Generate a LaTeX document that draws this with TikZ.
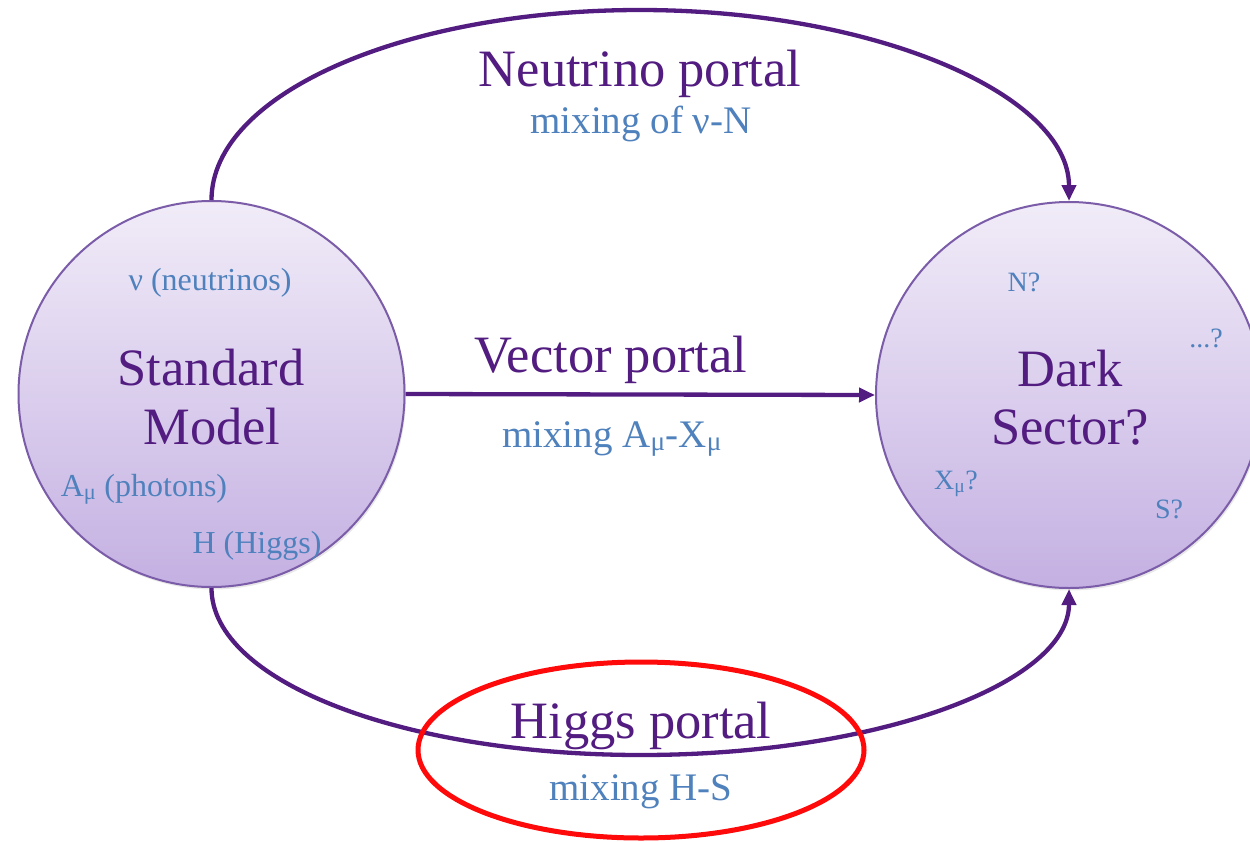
\documentclass[tikz,border=0pt]{standalone}
\usepackage{fontspec}
\setmainfont{Liberation Serif}
\usetikzlibrary{arrows.meta,shapes.geometric,shadows}
\definecolor{smpurple}{HTML}{521C80}
\definecolor{lblue}{HTML}{4F81BD}
\definecolor{rim}{HTML}{7B5CA8}
\definecolor{fillTop}{HTML}{F1ECF8}
\definecolor{fillBot}{HTML}{C4B0E2}
\definecolor{hred}{HTML}{FF0A0A}
\newcommand\smu{\textsubscript{μ}}
\begin{document}
\begin{tikzpicture}[x=1pt,y=-1pt,
  sector/.style={circle, draw=rim, line width=2pt, inner sep=0pt, minimum size=386pt,
    top color=fillTop, bottom color=fillBot,
    drop shadow={opacity=0.18,shadow xshift=1.5pt,shadow yshift=-2.5pt}},
  big/.style={text=smpurple, font=\fontsize{52.5}{59}\selectfont, inner sep=0pt, anchor=base},
  mid/.style={text=lblue, font=\fontsize{39}{44}\selectfont, inner sep=0pt, anchor=base},
  small/.style={text=lblue, font=\fontsize{32}{36}\selectfont, inner sep=0pt, anchor=base},
  tiny/.style={text=lblue, font=\fontsize{28}{32}\selectfont, inner sep=0pt, anchor=base},
  portal/.style={draw=smpurple, line width=4.3pt, -{Triangle[length=16pt,width=14pt]}},
  ring/.style={ellipse, draw=hred, line width=5pt, inner sep=0pt},
]
\clip (0,0) rectangle (1250,841);
\fill[white] (0,0) rectangle (1250,841);

% the two sectors
\node[sector] (sm) at (211.5,394) {};
\node[sector] (ds) at (1069,395) {};

% portals
\coordinate (nutop) at (640,10);
\coordinate (hbot) at (641,755);
\draw[portal] (sm.north) .. controls +(0,-106) and +(-236,0) .. (nutop)
  .. controls +(236,0) and +(0,-106) .. (ds.north);
\draw[portal] (sm.east) -- (ds.west);
\draw[portal] (sm.south) .. controls +(0,94) and +(-237,0) .. (hbot)
  .. controls +(237,0) and +(0,94) .. (ds.south);

% highlight around the Higgs portal
\node[ring, minimum width=446pt, minimum height=176pt] (hring) at (641,750) {};

% labels of the Standard Model
\node[big] (smA) at (211,385) {Standard};
\node[big] (smB) at (212,444) {Model};
\node[small] (nu) at (210,290) {ν (neutrinos)};
\node[small] (ph) at (144,496) {A\smu{} (photons)};
\node[small] (hg) at (257,553) {H (Higgs)};

% labels of the dark sector
\node[big] (dsA) at (1070,386) {Dark};
\node[big] (dsB) at (1070,444) {Sector?};
\node[tiny] (nq) at (1024,291) {N?};
\node[tiny] (dq) at (1206,347) {...?};
\node[tiny] (xq) at (956,489) {X\smu?};
\node[tiny] (sq) at (1169,518) {S?};

% portal labels
\node[big] (lnu) at (640,86) {Neutrino portal};
\node[mid] (mnu) at (641,133) {mixing of ν-N};
\node[big] (lvec) at (611,372) {Vector portal};
\node[mid] (mvec) at (612,447) {mixing A\smu-X\smu};
\node[big] (lhig) at (641,738) {Higgs portal};
\node[mid] (mhig) at (641,800) {mixing H-S};
\end{tikzpicture}
\end{document}
